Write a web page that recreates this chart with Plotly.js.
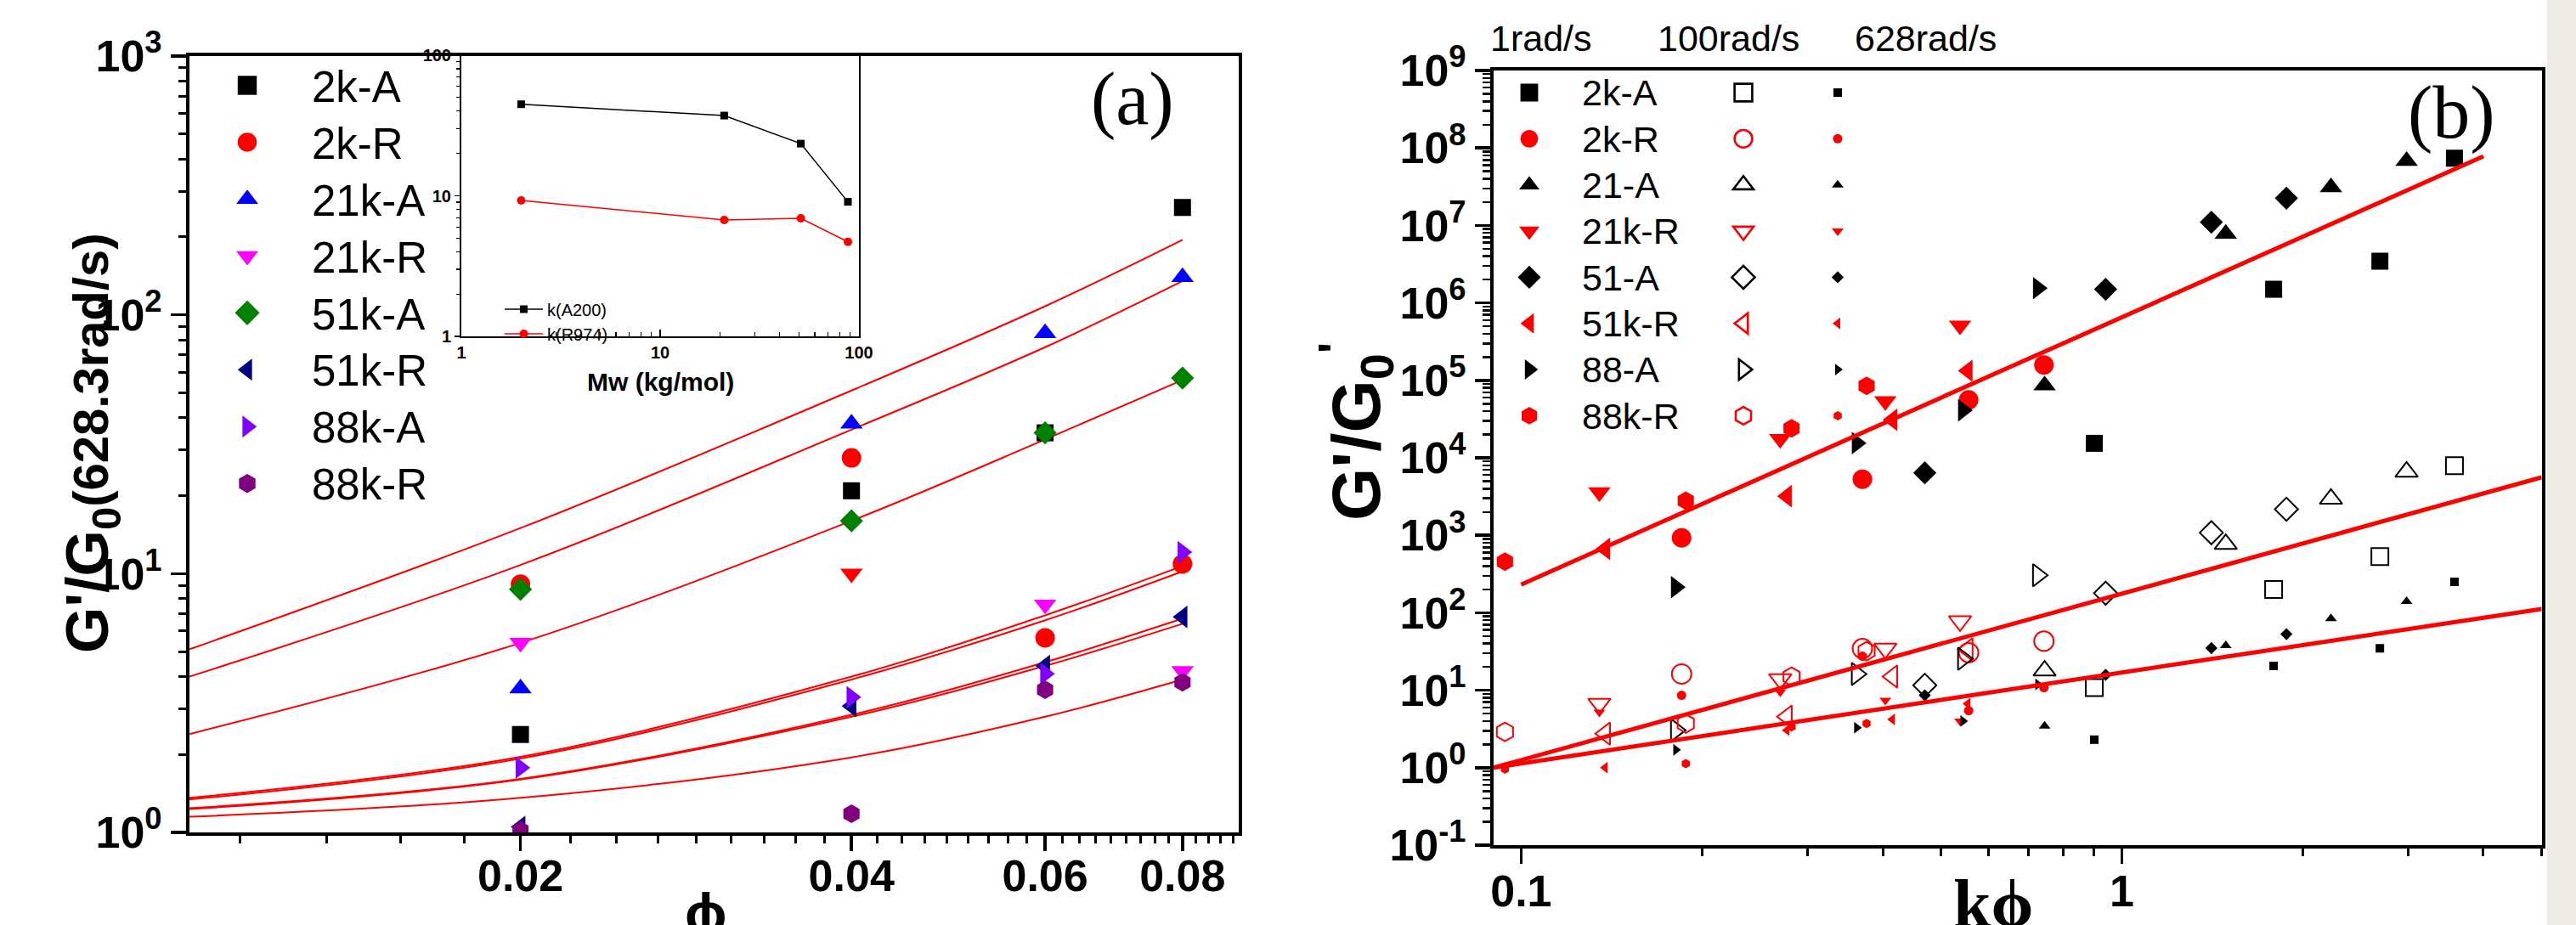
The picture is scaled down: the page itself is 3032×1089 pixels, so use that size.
<!DOCTYPE html>
<html><head><meta charset="utf-8">
<script src="https://cdn.plot.ly/plotly-3.0.1.min.js"></script>
<style>html,body{margin:0;padding:0;background:#fff;}#plot{width:3032px;height:1089px;}</style>
</head><body><div id="plot"></div>
<script>
// ---------------- Panel (a) data ----------------
const phiA = [0.02, 0.04, 0.06, 0.08];
const namesA = ['2k-A','2k-R','21k-A','21k-R','51k-A','51k-R','88k-A','88k-R'];
const gA_2kA  = [2.39, 20.9, 35, 260];
const gA_2kR  = [9.1, 28, 5.65, 10.9];
const gA_21kA = [3.6, 38, 85, 140];
const gA_21kR = [5.4, 10, 7.6, 4.2];
const gA_51kA = [8.7, 16, 35, 57];
const gA_51kR = [1.05, 3.08, 4.4, 6.8];
const gA_88kA = [1.78, 3.33, 4.1, 12.1];
const gA_88kR = [1.02, 1.18, 3.56, 3.8];
const gA = [gA_2kA, gA_2kR, gA_21kA, gA_21kR, gA_51kA, gA_51kR, gA_88kA, gA_88kR];

// fitted curves
const phiFit = [0.01, 0.02, 0.04, 0.06, 0.08];
const fitA = [
  [5.1, 15, 51, 108, 195],
  [4.0, 10.8, 36, 75, 135],
  [2.4, 5.4, 16, 33, 56],
  [1.34, 1.93, 3.9, 6.6, 10.2],
  [1.36, 1.96, 4.0, 6.9, 10.7],
  [1.23, 1.6, 2.8, 4.4, 6.4],
  [1.24, 1.61, 2.85, 4.55, 6.7],
  [1.15, 1.36, 1.95, 2.8, 3.9]
];

// inset
const mw = [2, 21, 51, 88];
const kA200 = [44.8, 37.2, 23.5, 9.06];
const kR974 = [9.27, 6.73, 6.92, 4.7];

// ---------------- Panel (b) data ----------------
const namesB = ['2k-A','2k-R','21-A','21k-R','51-A','51k-R','88-A','88k-R'];
const kphiB = [
  [0.90, 1.79, 2.69, 3.58],
  [0.185, 0.37, 0.556, 0.742],
  [0.744, 1.49, 2.23, 2.98],
  [0.135, 0.27, 0.404, 0.538],
  [0.47, 0.94, 1.41, 1.88],
  [0.138, 0.277, 0.415, 0.554],
  [0.181, 0.362, 0.544, 0.725],
  [0.094, 0.188, 0.282, 0.376]
];
const g1rad = [
  [1.54e4, 1.5e6, 3.45e6, 7.4e7],
  [927, 5300, 5.6e4, 1.58e5],
  [8.6e4, 7.8e6, 3.1e7, 6.8e7],
  [3600, 1.75e4, 5.4e4, 5.1e5],
  [6400, 1.5e6, 1.1e7, 2.25e7],
  [667, 3200, 3.1e4, 1.33e5],
  [214, 1.55e4, 4.1e4, 1.55e6],
  [456, 2800, 2.4e4, 8.5e4]
];
const g100rad = [
  [10.8, 200, 530, 7900],
  [16.2, 34.5, 30.5, 43],
  [17.9, 770, 2950, 6600],
  [6.7, 13.9, 34.5, 78],
  [11.6, 179, 1080, 2170],
  [2.75, 4.56, 15, 33.6],
  [3.05, 16.2, 25.5, 305],
  [2.9, 3.72, 15, 32]
];
const g628rad = [
  [2.3, 20.6, 34.7, 250],
  [8.6, 27.5, 5.45, 10.8],
  [3.45, 37.8, 84, 140],
  [5.2, 9.5, 7.4, 4.0],
  [8.6, 15.8, 35, 53],
  [1.0, 3.05, 4.2, 6.7],
  [1.7, 3.28, 4.0, 11.9],
  [0.96, 1.13, 3.37, 3.72]
];
const fitBx = [[0.1, 4.0], [0.09, 5.0], [0.09, 5.0]];
const fitBy = [[231, 7.8e7], [1.0, 5600], [1.0, 112]];

// tick labels
const phiTicks = [0.02, 0.04, 0.06, 0.08];
const phiTickText = ['0.02', '0.04', '0.06', '0.08'];
const yTicksA = [1, 10, 100, 1000];
const yTickTextA = ['10<sup>0</sup>', '10<sup>1</sup>', '10<sup>2</sup>', '10<sup>3</sup>'];
const yTicksB = [0.1, 1, 10, 100, 1e3, 1e4, 1e5, 1e6, 1e7, 1e8, 1e9];
const yTickTextB = ['10<sup>-1</sup>','10<sup>0</sup>','10<sup>1</sup>','10<sup>2</sup>','10<sup>3</sup>','10<sup>4</sup>','10<sup>5</sup>','10<sup>6</sup>','10<sup>7</sup>','10<sup>8</sup>','10<sup>9</sup>'];
const xTicksB = [0.1, 1];
const xTickTextB = ['0.1', '1'];

// ---------------- styles ----------------
const W = 3032, H = 1089;
const px = v => v / W, py = v => 1 - v / H;
const FONT = 'Liberation Sans, Arial, sans-serif';
const SERIF = 'Liberation Serif, Times New Roman, serif';
const symA = ['square','circle','triangle-up','triangle-down','diamond','triangle-left','triangle-right','hexagon'];
const sizeA = [20, 23, 23, 23, 21, 23, 23, 22];
const colorsA = ['#000000','#FF0000','#0000FF','#FF00FF','#008000','#000080','#8000FF','#800080'];
const colorA_21kR = ['#FF00FF','#FF0000','#FF00FF','#FF00FF'];
const colorsB = ['#000000','#FF0000','#000000','#FF0000','#000000','#FF0000','#000000','#FF0000'];
const sizeSmall = [10, 11, 12, 12, 11, 12, 12, 11];
const span = (t, s) => "<span style='font-size:" + s + "px'>" + t + "</span>";

function minorLog(decs) {
  const out = [];
  decs.forEach(d => { for (let m = 2; m <= 9; m++) out.push(m * Math.pow(10, d)); });
  return out;
}
const phiMinor = [];
for (let n = 5; n <= 40; n++) { if (n % 9 !== 0) phiMinor.push(n * 0.02 / 9); }

const traces = [];
// (a) curves
fitA.forEach(arr => traces.push({x: phiFit, y: arr, xaxis: 'x', yaxis: 'y', mode: 'lines',
  line: {color: '#FF0000', width: 2, shape: 'spline'}, showlegend: false, hoverinfo: 'skip'}));
// (a) points
namesA.forEach((n, i) => traces.push({x: phiA, y: gA[i], xaxis: 'x', yaxis: 'y', mode: 'markers',
  name: span(n, 51), legend: 'legend4',
  marker: {symbol: symA[i], size: sizeA[i], color: i === 3 ? colorA_21kR : colorsA[i], line: {width: 0}}}));
// inset
traces.push({x: mw, y: kA200, xaxis: 'x3', yaxis: 'y3', mode: 'lines+markers', name: span('k(A200)', 20),
  legend: 'legend5', line: {color: '#000', width: 1.5}, marker: {symbol: 'square', size: 9, color: '#000'}});
traces.push({x: mw, y: kR974, xaxis: 'x3', yaxis: 'y3', mode: 'lines+markers', name: span('k(R974)', 20),
  legend: 'legend5', line: {color: '#FF0000', width: 1.5}, marker: {symbol: 'circle', size: 10, color: '#FF0000'}});
// (b) points
namesB.forEach((n, i) => {
  traces.push({x: kphiB[i], y: g1rad[i], xaxis: 'x2', yaxis: 'y2', mode: 'markers', name: span(n, 43),
    legend: 'legend', marker: {symbol: symA[i], size: sizeA[i], color: colorsB[i], line: {width: 0}}});
});
namesB.forEach((n, i) => {
  traces.push({x: kphiB[i], y: g100rad[i], xaxis: 'x2', yaxis: 'y2', mode: 'markers', name: '',
    legend: 'legend2', marker: {symbol: symA[i] + '-open', size: sizeA[i], color: colorsB[i], line: {width: 2, color: colorsB[i]}}});
});
namesB.forEach((n, i) => {
  traces.push({x: kphiB[i], y: g628rad[i], xaxis: 'x2', yaxis: 'y2', mode: 'markers', name: '',
    legend: 'legend3', marker: {symbol: symA[i], size: sizeSmall[i], color: colorsB[i], line: {width: 0}}});
});
// (b) fit lines
fitBx.forEach((xx, j) => traces.push({x: xx, y: fitBy[j], xaxis: 'x2', yaxis: 'y2', mode: 'lines',
  line: {color: '#FF0000', width: 5}, showlegend: false, hoverinfo: 'skip'}));

const ax = {type: 'log', showgrid: false, zeroline: false, showline: true, linecolor: '#000', mirror: true,
  ticks: 'outside', tickcolor: '#000', tickmode: 'array'};
const tickFontBig = {family: FONT, size: 52, weight: 'bold', color: '#000'};

const legBase = {bgcolor: 'rgba(0,0,0,0)', borderwidth: 0, xanchor: 'left', yanchor: 'top', traceorder: 'normal'};

const layout = {
  width: W, height: H,
  margin: {l: 0, r: 0, t: 0, b: 0, pad: 0, autoexpand: false},
  paper_bgcolor: '#ffffff', plot_bgcolor: 'rgba(0,0,0,0)',
  showlegend: true,
  xaxis: Object.assign({}, ax, {domain: [px(223), px(1458)], anchor: 'y', range: [-2, Math.log10(0.09)],
    linewidth: 4, ticklen: 18, tickwidth: 3.5, tickvals: phiTicks, ticktext: phiTickText, tickfont: tickFontBig,
    ticklabelstandoff: -15,
    minor: {tickmode: 'array', tickvals: phiMinor, ticks: 'outside', ticklen: 9, tickwidth: 3, tickcolor: '#000'}}),
  yaxis: Object.assign({}, ax, {domain: [py(980), py(66)], anchor: 'x', range: [0, 3],
    linewidth: 4, ticklen: 18, tickwidth: 3.5, tickvals: yTicksA, ticktext: yTickTextA, tickfont: tickFontBig,
    minor: {tickmode: 'array', tickvals: minorLog([0, 1, 2]), ticks: 'outside', ticklen: 9, tickwidth: 3, tickcolor: '#000'}}),
  xaxis2: Object.assign({}, ax, {domain: [px(1758), px(2991.5)], anchor: 'y2', range: [Math.log10(0.09), Math.log10(5)],
    linewidth: 4, ticklen: 18, tickwidth: 3.5, tickvals: xTicksB, ticktext: xTickTextB, tickfont: tickFontBig,
    ticklabelstandoff: -12,
    minor: {tickmode: 'array', tickvals: [0.2,0.3,0.4,0.5,0.6,0.7,0.8,0.9,2,3,4,5], ticks: 'outside', ticklen: 9, tickwidth: 3, tickcolor: '#000'}}),
  yaxis2: Object.assign({}, ax, {domain: [py(995), py(83)], anchor: 'x2', range: [-1, 9],
    linewidth: 4, ticklen: 18, tickwidth: 3.5, tickvals: yTicksB, ticktext: yTickTextB, tickfont: tickFontBig,
    minor: {tickmode: 'array', tickvals: minorLog([-1,0,1,2,3,4,5,6,7,8]), ticks: 'outside', ticklen: 9, tickwidth: 2.5, tickcolor: '#000'}}),
  xaxis3: Object.assign({}, ax, {domain: [px(543), px(1011)], anchor: 'y3', range: [0, 2],
    linewidth: 2, ticks: 'inside', ticklen: 8, tickwidth: 1.5, tickvals: [1, 10, 100], ticktext: ['1', '10', '100'],
    tickfont: {family: FONT, size: 20, weight: 'bold', color: '#000'},
    minor: {tickmode: 'array', tickvals: minorLog([0, 1]), ticks: 'inside', ticklen: 5, tickwidth: 1.2, tickcolor: '#000'}}),
  yaxis3: Object.assign({}, ax, {domain: [py(396), py(65)], anchor: 'x3', range: [0, 2],
    linewidth: 2, ticklen: 6, tickwidth: 1.5, tickvals: [1, 10, 100], ticktext: ['1', '10', '100'],
    tickfont: {family: FONT, size: 20, weight: 'bold', color: '#000'},
    minor: {tickmode: 'array', tickvals: minorLog([0, 1]), ticks: 'outside', ticklen: 4, tickwidth: 1.2, tickcolor: '#000'}}),
  legend: Object.assign({}, legBase, {x: px(1738), y: py(76.8), itemwidth: 114, font: {family: FONT, size: 39.5, color: '#000'}}),
  legend2: Object.assign({}, legBase, {x: px(1990), y: py(76.8), itemwidth: 114, font: {family: FONT, size: 39.5, color: '#000'}}),
  legend3: Object.assign({}, legBase, {x: px(2101), y: py(76.8), itemwidth: 114, font: {family: FONT, size: 39.5, color: '#000'}}),
  legend4: Object.assign({}, legBase, {x: px(215), y: py(62), itemwidth: 142, font: {family: FONT, size: 49.2, color: '#000'}}),
  legend5: Object.assign({}, legBase, {x: px(589), y: py(344.5), itemwidth: 45, font: {family: FONT, size: 20, color: '#000'}}),
  shapes: [
    {type: 'rect', xref: 'paper', yref: 'paper', x0: px(2998), x1: 1, y0: 0, y1: 1, fillcolor: '#EDEBE2', line: {width: 0}, layer: 'below'}
  ],
  annotations: [
    {text: "G'/G<sub>0</sub><span style='font-size:58px'>(628.3rad/s)</span>", x: px(108), y: py(522), xref: 'paper', yref: 'paper',
      textangle: -90, showarrow: false, xanchor: 'center', yanchor: 'middle', font: {family: FONT, size: 70, weight: 'bold', color: '#000'}},
    {text: "G'/G<sub>0</sub><sup>'</sup>", x: px(1595), y: py(508), xref: 'paper', yref: 'paper',
      textangle: -90, showarrow: false, xanchor: 'center', yanchor: 'middle', font: {family: FONT, size: 80, weight: 'bold', color: '#000'}},
    {text: '\u03D5', x: px(830), y: py(1036), xref: 'paper', yref: 'paper', showarrow: false, xanchor: 'center', yanchor: 'top',
      font: {family: FONT, size: 66, weight: 'bold', color: '#000'}},
    {text: 'k\u03D5', x: px(2346), y: py(1018), xref: 'paper', yref: 'paper', showarrow: false, xanchor: 'center', yanchor: 'top',
      font: {family: SERIF, size: 80, weight: 'bold', color: '#000'}},
    {text: '(a)', x: px(1333), y: py(117), xref: 'paper', yref: 'paper', showarrow: false, xanchor: 'center', yanchor: 'middle',
      font: {family: SERIF, size: 88, color: '#000'}},
    {text: '(b)', x: px(2885), y: py(132), xref: 'paper', yref: 'paper', showarrow: false, xanchor: 'center', yanchor: 'middle',
      font: {family: SERIF, size: 88, color: '#000'}},
    {text: '1rad/s', x: px(1752), y: py(45), xref: 'paper', yref: 'paper', showarrow: false, xanchor: 'left', yanchor: 'middle',
      font: {family: FONT, size: 43, color: '#000'}},
    {text: '100rad/s', x: px(1949), y: py(45), xref: 'paper', yref: 'paper', showarrow: false, xanchor: 'left', yanchor: 'middle',
      font: {family: FONT, size: 43, color: '#000'}},
    {text: '628rad/s', x: px(2181), y: py(45), xref: 'paper', yref: 'paper', showarrow: false, xanchor: 'left', yanchor: 'middle',
      font: {family: FONT, size: 43, color: '#000'}},
    {text: 'Mw (kg/mol)', x: px(777), y: py(450), xref: 'paper', yref: 'paper', showarrow: false, xanchor: 'center', yanchor: 'middle',
      font: {family: FONT, size: 30, weight: 'bold', color: '#000'}}
  ]
};

// enlarge legend symbols (Plotly caps legend marker size at 16 px)
const legendScale = {legend: 1.3, legend2: 1.3, legend4: 1.4};
function enlargeLegendSymbols(gd) {
  const info = gd.querySelector('.infolayer');
  if (!info) return;
  Array.from(info.children).forEach(lg => {
    const id = ((lg.getAttribute('class') || '').trim().split(/\s+/)[0]) || '';
    const s = legendScale[id];
    if (!s) return;
    lg.querySelectorAll('.legendpoints path').forEach(p => {
      if (p.getAttribute('data-enl') === '1') return;
      const t = p.getAttribute('transform') || '';
      p.setAttribute('transform', (t ? t + ' ' : '') + 'scale(' + s + ')');
      p.setAttribute('data-enl', '1');
    });
  });
}

const gdiv = document.getElementById('plot');
Plotly.newPlot(gdiv, traces, layout, {staticPlot: true, displayModeBar: false}).then(gd => {
  enlargeLegendSymbols(gd);
  if (gd.on) gd.on('plotly_afterplot', () => enlargeLegendSymbols(gd));
  setTimeout(() => enlargeLegendSymbols(gd), 50);
  setTimeout(() => enlargeLegendSymbols(gd), 400);
});
</script>
</body></html>
